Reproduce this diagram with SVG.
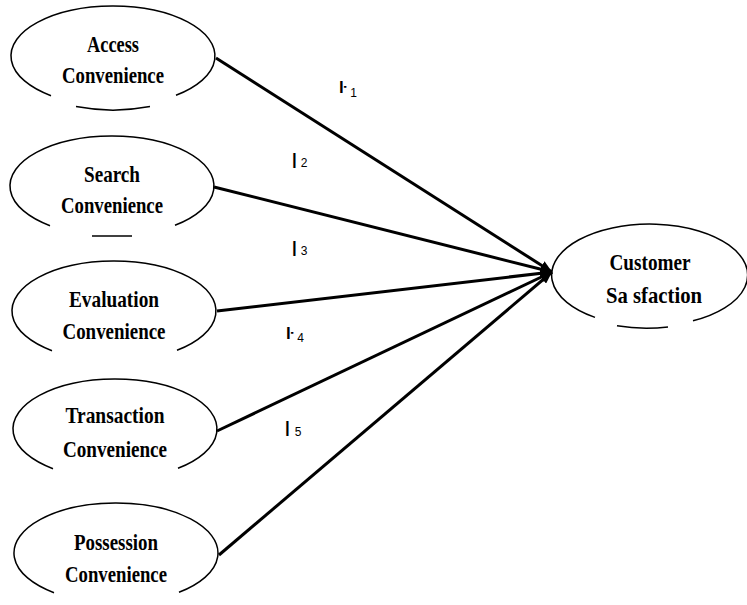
<svg xmlns="http://www.w3.org/2000/svg" width="747" height="605" viewBox="0 0 747 605">
<style>
.shape{fill:none;stroke:#000;stroke-width:1.5}
.lbl{font-family:"Liberation Serif","Times New Roman",serif;font-weight:bold;font-size:24px;fill:#000;text-anchor:middle}
.conn{stroke:#000;stroke-width:3;fill:none;marker-end:url(#arr)}
.h{font-family:"Liberation Sans",Arial,sans-serif;fill:#000}
.bar{font-weight:bold}
</style>
<defs>
<marker id="arr" markerUnits="userSpaceOnUse" markerWidth="13" markerHeight="10" refX="12" refY="5" orient="auto">
<path d="M0,0 L12,5 L0,10 z" fill="#000"/>
</marker>
<path id="ell" d="M-62,39.7 A102 50 0 1 1 63,39.3"/>
<path id="bot" d="M-37,48.6 A102 50 0 0 0 37,48.6"/>
</defs>
<rect width="747" height="605" fill="#fff"/>
<g id="connectors">
<line class="conn" x1="216" y1="58" x2="552" y2="272"/>
<line class="conn" x1="214" y1="187" x2="552" y2="272"/>
<line class="conn" x1="217" y1="311" x2="552" y2="272"/>
<line class="conn" x1="217" y1="431" x2="552" y2="272"/>
<line class="conn" x1="219" y1="555" x2="552" y2="272"/>
</g>
<g id="labels">
<text class="h" x="339" y="93" font-size="17"><tspan class="bar">ŀ</tspan><tspan font-size="12" dx="3" dy="4">1</tspan></text>
<text class="h" x="292" y="165" font-size="17"><tspan class="bar">|</tspan><tspan font-size="12" dx="4" dy="2">2</tspan></text>
<text class="h" x="292" y="253" font-size="17"><tspan class="bar">|</tspan><tspan font-size="12" dx="4" dy="2">3</tspan></text>
<text class="h" x="286" y="339" font-size="17"><tspan class="bar">ŀ</tspan><tspan font-size="12" dx="3" dy="3">4</tspan></text>
<text class="h" x="285" y="433" font-size="17"><tspan class="bar">|</tspan><tspan font-size="12" dx="5" dy="3">5</tspan></text>
</g>
<g id="access" transform="translate(113,56)">
<use href="#ell" class="shape"/>
<use href="#bot" class="shape" transform="translate(0,2)"/>
<text class="lbl" x="0" y="-4" textLength="52" lengthAdjust="spacingAndGlyphs">Access</text>
<text class="lbl" x="0" y="27" textLength="102" lengthAdjust="spacingAndGlyphs">Convenience</text>
</g>
<g id="search" transform="translate(112,186)">
<use href="#ell" class="shape"/>
<path class="shape" d="M-20,50 L20,50"/>
<text class="lbl" x="0" y="-4" textLength="56" lengthAdjust="spacingAndGlyphs">Search</text>
<text class="lbl" x="0" y="27" textLength="102" lengthAdjust="spacingAndGlyphs">Convenience</text>
</g>
<g id="evaluation" transform="translate(114,311)">
<use href="#ell" class="shape"/>
<text class="lbl" x="0" y="-4" textLength="90" lengthAdjust="spacingAndGlyphs">Evaluation</text>
<text class="lbl" x="0" y="28" textLength="103" lengthAdjust="spacingAndGlyphs">Convenience</text>
</g>
<g id="transaction" transform="translate(115,429)">
<use href="#ell" class="shape"/>
<text class="lbl" x="0" y="-6" textLength="99" lengthAdjust="spacingAndGlyphs">Transaction</text>
<text class="lbl" x="0" y="28" textLength="104" lengthAdjust="spacingAndGlyphs">Convenience</text>
</g>
<g id="possession" transform="translate(116,553)">
<use href="#ell" class="shape"/>
<text class="lbl" x="0" y="-3" textLength="84" lengthAdjust="spacingAndGlyphs">Possession</text>
<text class="lbl" x="0" y="29" textLength="102" lengthAdjust="spacingAndGlyphs">Convenience</text>
</g>
<g id="customer" transform="translate(650,275)">
<path class="shape" d="M-55,42.4 A98 51 0 1 1 43,45.8"/>
<path class="shape" d="M-33,50.8 A98 51 0 0 0 18,51.9"/>
<text class="lbl" x="0" y="-5" textLength="81" lengthAdjust="spacingAndGlyphs">Customer</text>
<text class="lbl" x="4" y="28" textLength="96" lengthAdjust="spacingAndGlyphs">Sa sfaction</text>
</g>
</svg>
